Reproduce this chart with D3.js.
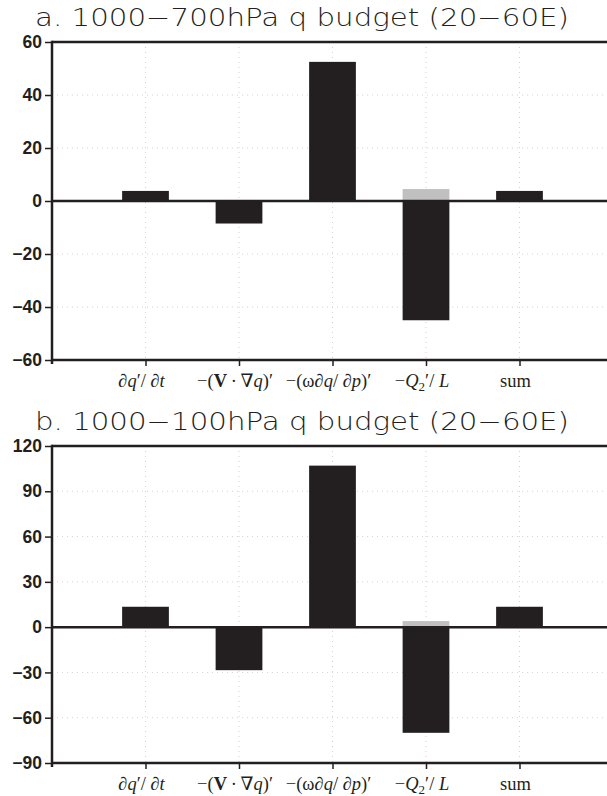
<!DOCTYPE html>
<html>
<head>
<meta charset="utf-8">
<script src="https://cdn.jsdelivr.net/npm/d3@7"></script>
<style>
  body { margin: 0; background: #fff; }
  svg { display: block; }
</style>
</head>
<body>
<svg id="chart" width="607" height="796"></svg>
<script>
// categories on x (1..5)
var categories = ["dqdt", "adv", "omega", "q2", "sum"];
// panel a: 1000-700hPa
var valuesA = [3.8, -8.5, 52.5, -45, 3.8];
var residualA = [null, null, null, 4.5, null];
var ticksA = [-60, -40, -20, 0, 20, 40, 60];
// panel b: 1000-100hPa
var valuesB = [13.5, -28.5, 107, -70, 13.5];
var residualB = [null, null, null, 4, null];
var ticksB = [-90, -60, -30, 0, 30, 60, 90, 120];

var svg = d3.select("#chart");

var panels = [
    { title: "a. 1000\u2212700hPa q budget (20\u221260E)", values: valuesA, residual: residualA,
      ticks: ticksA, top: 42, bottom: 360, titleY: 26 },
    { title: "b. 1000\u2212100hPa q budget (20\u221260E)", values: valuesB, residual: residualB,
      ticks: ticksB, top: 446, bottom: 763, titleY: 430 }
];

var xScale = d3.scaleLinear().domain([0, 6]).range([52, 613]);
var barW = xScale(0.5) - xScale(0);

// draw the math-style category labels
function drawLabel(sel, i) {
    var t = sel.append("text")
        .attr("text-anchor", "middle")
        .style("font-family", "'Liberation Serif', 'DejaVu Serif', serif")
        .style("font-size", "18.5px")
        .attr("fill", "#231f20");
    if (i === 0) {
        t.append("tspan").text("\u2202");
        t.append("tspan").style("font-style", "italic").text("q");
        t.append("tspan").text("\u2032/ \u2202");
        t.append("tspan").style("font-style", "italic").text("t");
    } else if (i === 1) {
        t.append("tspan").text("\u2212(");
        t.append("tspan").style("font-weight", "bold").text("V");
        t.append("tspan").text("\u2009\u00b7\u2009\u2207");
        t.append("tspan").style("font-style", "italic").text("q");
        t.append("tspan").text(")\u2032");
    } else if (i === 2) {
        t.append("tspan").text("\u2212(\u03c9\u2202");
        t.append("tspan").style("font-style", "italic").text("q");
        t.append("tspan").text("/ \u2202");
        t.append("tspan").style("font-style", "italic").text("p");
        t.append("tspan").text(")\u2032");
    } else if (i === 3) {
        t.append("tspan").text("\u2212");
        t.append("tspan").style("font-style", "italic").text("Q");
        t.append("tspan").attr("dy", 4).style("font-size", "13px").text("2");
        t.append("tspan").attr("dy", -4).text("\u2032/ ");
        t.append("tspan").style("font-style", "italic").text("L");
    } else {
        t.text("sum");
    }
    return t;
}

panels.forEach(function(p) {
    var yScale = d3.scaleLinear()
        .domain([p.ticks[0], p.ticks[p.ticks.length - 1]])
        .range([p.bottom, p.top]);
    var g = svg.append("g");

    // title
    g.append("text")
        .attr("x", 35)
        .attr("y", p.titleY)
        .attr("textLength", 534)
        .attr("lengthAdjust", "spacingAndGlyphs")
        .style("font-family", "'DejaVu Sans', sans-serif")
        .style("font-size", "25px")
        .style("font-weight", "200")
        .attr("fill", "#231f20")
        .text(p.title);

    // dotted grid lines
    g.append("g")
        .selectAll("line")
        .data(p.ticks.slice(1, -1).filter(d => d !== 0))
        .enter()
        .append("line")
        .attr("x1", xScale(0)).attr("x2", 607)
        .attr("y1", d => yScale(d)).attr("y2", d => yScale(d))
        .attr("stroke", "#c8c8c8").attr("stroke-width", 0.8)
        .attr("stroke-dasharray", "1,4");
    g.append("g")
        .selectAll("line")
        .data(categories)
        .enter()
        .append("line")
        .attr("x1", (d, i) => xScale(i + 1)).attr("x2", (d, i) => xScale(i + 1))
        .attr("y1", p.top).attr("y2", p.bottom)
        .attr("stroke", "#c8c8c8").attr("stroke-width", 0.8)
        .attr("stroke-dasharray", "1,4");

    // gray residual bars
    g.append("g")
        .selectAll("rect")
        .data(p.residual)
        .enter()
        .filter(d => d !== null)
        .append("rect")
        .attr("x", (d, i) => xScale(p.residual.indexOf(d) + 1) - barW / 2)
        .attr("y", d => yScale(Math.max(0, d)))
        .attr("width", barW)
        .attr("height", d => Math.abs(yScale(d) - yScale(0)))
        .attr("fill", "#c0c0c0");

    // black bars
    g.append("g")
        .selectAll("rect")
        .data(p.values)
        .enter()
        .append("rect")
        .attr("x", (d, i) => xScale(i + 1) - barW / 2)
        .attr("y", d => yScale(Math.max(0, d)))
        .attr("width", barW)
        .attr("height", d => Math.abs(yScale(d) - yScale(0)))
        .attr("fill", "#231f20");

    // zero line
    g.append("line")
        .attr("x1", xScale(0)).attr("x2", 607)
        .attr("y1", yScale(0)).attr("y2", yScale(0))
        .attr("stroke", "#231f20").attr("stroke-width", 2.5);

    // top frame line
    g.append("line")
        .attr("x1", xScale(0)).attr("x2", 607)
        .attr("y1", p.top).attr("y2", p.top)
        .attr("stroke", "#231f20").attr("stroke-width", 2.5);

    // left axis
    var yAxis = g.append("g")
        .attr("transform", "translate(" + xScale(0) + ",0)")
        .call(d3.axisLeft(yScale).tickValues(p.ticks).tickSize(7).tickPadding(3)
              .tickFormat(d => d < 0 ? "\u2212" + Math.abs(d) : d));
    yAxis.select(".domain").remove();
    yAxis.selectAll(".tick line").attr("stroke", "#231f20").attr("stroke-width", 1.5);
    yAxis.selectAll(".tick text")
        .style("font-family", "'Liberation Sans', Arial, sans-serif")
        .style("font-size", "17.5px")
        .style("font-weight", "bold")
        .attr("fill", "#231f20");
    g.append("line")
        .attr("x1", xScale(0)).attr("x2", xScale(0))
        .attr("y1", p.top - 1.25).attr("y2", p.bottom + 4)
        .attr("stroke", "#231f20").attr("stroke-width", 2.5);

    // bottom axis
    var xAxis = g.append("g")
        .attr("transform", "translate(0," + p.bottom + ")")
        .call(d3.axisBottom(xScale).tickValues([1, 2, 3, 4, 5]).tickSize(6).tickFormat(""));
    xAxis.select(".domain").remove();
    xAxis.selectAll(".tick line").attr("stroke", "#231f20").attr("stroke-width", 1.5);
    g.append("line")
        .attr("x1", xScale(0)).attr("x2", 607)
        .attr("y1", p.bottom).attr("y2", p.bottom)
        .attr("stroke", "#231f20").attr("stroke-width", 2.5);

    categories.forEach(function(c, i) {
        drawLabel(g, i)
            .attr("x", xScale(i + 1) - 4)
            .attr("y", p.bottom + 27);
    });
});
</script>
</body>
</html>
